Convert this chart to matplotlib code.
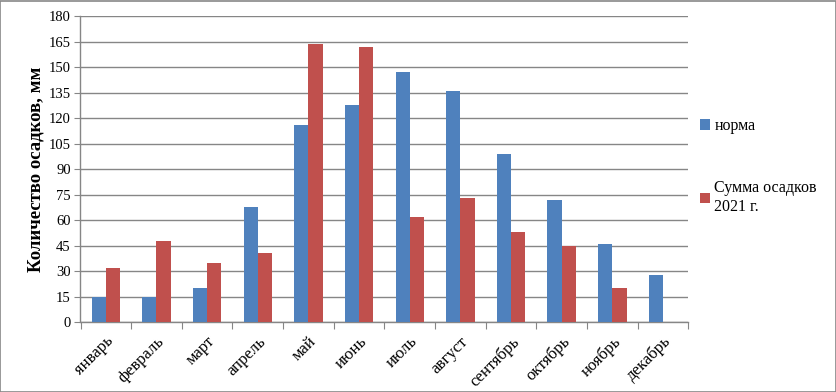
import matplotlib
matplotlib.use("Agg")
import matplotlib.pyplot as plt
import numpy as np
from matplotlib.patches import Rectangle

months = ["январь", "февраль", "март", "апрель", "май", "июнь", "июль",
          "август", "сентябрь", "октябрь", "ноябрь", "декабрь"]
norma = [15, 15, 20, 68, 116, 128, 147, 136, 99, 72, 46, 28]
summa_2021 = [32, 48, 35, 41, 164, 162, 62, 73, 53, 45, 20, 0]
series_names = ["норма", "Сумма осадков\n2021 г."]
yticks = list(range(0, 181, 15))

plt.rcParams['font.family'] = ['Liberation Serif', 'DejaVu Serif']

W, H = 837, 392
fig = plt.figure(figsize=(W / 100, H / 100), dpi=100)
ax = fig.add_axes([80.5 / W, 1 - 322.3 / H, (688.3 - 80.5) / W, (322.3 - 16.3) / H])

x = np.arange(len(months))
bw = 0.28
ax.bar(x - bw / 2, norma, width=bw, color='#4F81BD', label=series_names[0], zorder=3)
ax.bar(x + bw / 2, summa_2021, width=bw, color='#C0504D', label=series_names[1], zorder=3)

ax.set_xlim(-0.5, len(months) - 0.5)
ax.set_ylim(0, 180)
ax.set_yticks(yticks)
ax.yaxis.grid(True, color='#868686', linewidth=1, zorder=0)
ax.set_axisbelow(True)

ax.set_xticks(np.arange(-0.5, len(months), 1.0))
ax.set_xticklabels([])
ax.set_xticks(x, minor=True)
ax.set_xticklabels(months, minor=True, rotation=45, ha='right', rotation_mode='anchor', fontsize=12)
ax.tick_params(axis='x', which='minor', length=0, pad=8)
ax.tick_params(axis='x', which='major', length=5, color='#868686')
ax.tick_params(axis='y', length=4, color='#868686', labelsize=10.5, pad=3)

for s in ['top', 'right']:
    ax.spines[s].set_visible(False)
for s in ['left', 'bottom']:
    ax.spines[s].set_color('#868686')
    ax.spines[s].set_linewidth(1)

ax.set_ylabel("Количество осадков, мм", fontsize=13.5, fontweight='bold', labelpad=3)

leg = fig.legend(loc='upper left', bbox_to_anchor=(700 / W, 1 - 118 / H), frameon=False,
                 fontsize=11.5, handlelength=0.65, handleheight=0.65, handletextpad=0.25,
                 labelspacing=2.9, borderaxespad=0, borderpad=0)

fig.patches.append(Rectangle((0.5 / W, 0.5 / H), 1 - 1.5 / W, 1 - 1.5 / H, transform=fig.transFigure,
                             fill=False, edgecolor='#888888', linewidth=1.2))

fig.savefig("out.png", dpi=100)
